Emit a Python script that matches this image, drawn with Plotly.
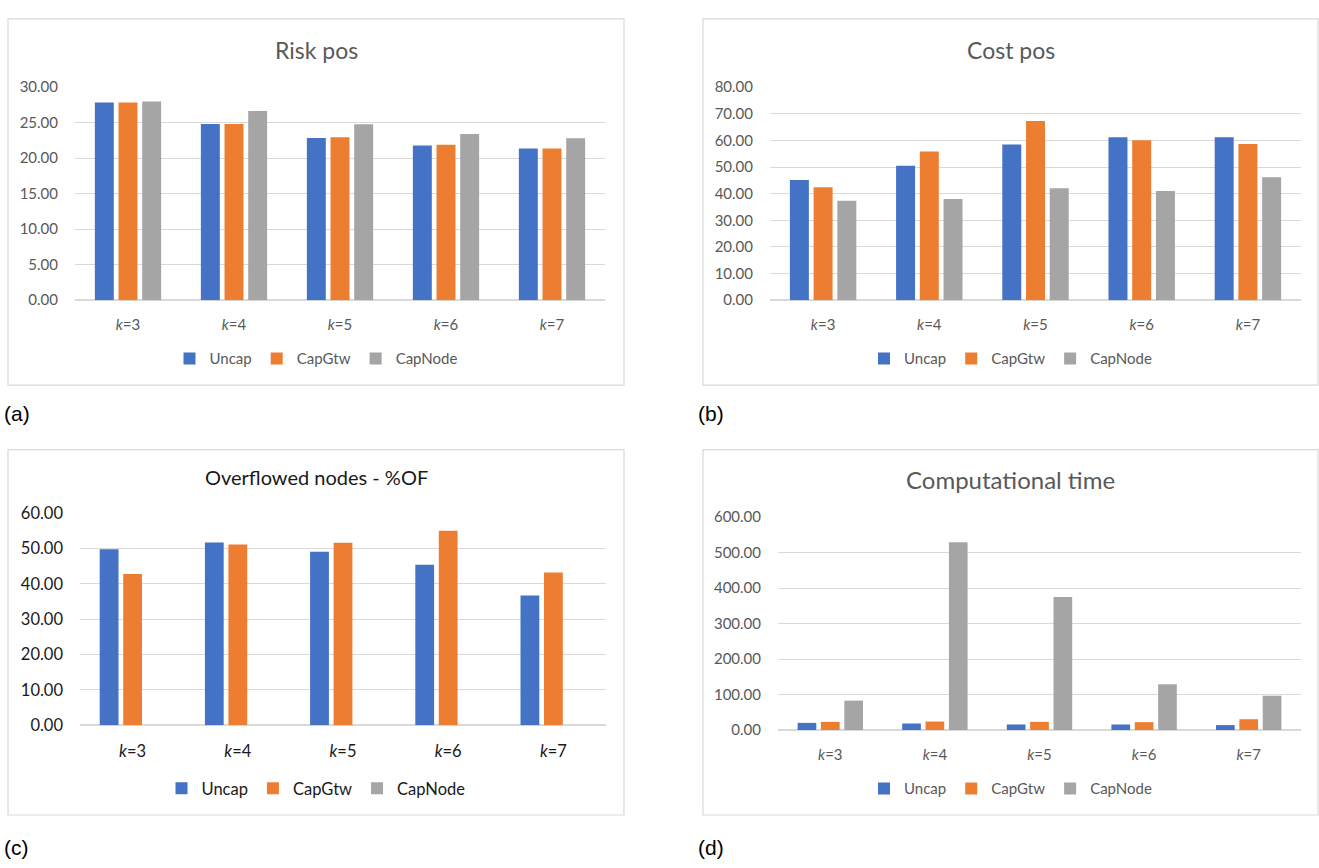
import plotly.graph_objects as go

W, H = 1319, 868

categories = ["k=3", "k=4", "k=5", "k=6", "k=7"]
tick_text = ["<i>k</i>=3", "<i>k</i>=4", "<i>k</i>=5", "<i>k</i>=6", "<i>k</i>=7"]
series_names = ["Uncap", "CapGtw", "CapNode"]
colors = ["#4472C4", "#ED7D31", "#A5A5A5"]

risk_uncap = [27.84, 24.80, 22.84, 21.79, 21.38]
risk_capgtw = [27.84, 24.80, 22.94, 21.88, 21.38]
risk_capnode = [27.98, 26.65, 24.77, 23.39, 22.80]

cost_uncap = [45.1, 50.5, 58.5, 61.2, 61.2]
cost_capgtw = [42.4, 55.8, 67.3, 60.1, 58.7]
cost_capnode = [37.3, 38.0, 42.0, 41.0, 46.2]

of_uncap = [49.8, 51.7, 49.1, 45.4, 36.7]
of_capgtw = [42.8, 51.1, 51.6, 55.0, 43.2]
of_capnode = [0.0, 0.0, 0.0, 0.0, 0.0]

time_uncap = [20.2, 18.4, 15.6, 15.6, 13.8]
time_capgtw = [23.0, 23.9, 23.0, 22.1, 30.4]
time_capnode = [82.8, 529.0, 374.5, 128.8, 96.6]

panels = [
    dict(title="Risk pos", data=[risk_uncap, risk_capgtw, risk_capnode], dtick=5, rmax=30,
         px=(75, 605), py=(297, 79), box=(8, 9, 624, 384), title_y=41, legend_y=357,
         label="(a)", label_pos=(2, 413), dark=False, tsize=23),
    dict(title="Cost pos", data=[cost_uncap, cost_capgtw, cost_capnode], dtick=10, rmax=80,
         px=(770, 1301), py=(297, 79), box=(703, 9, 1318, 384), title_y=41, legend_y=357,
         label="(b)", label_pos=(696, 413), dark=False, tsize=23),
    dict(title="Overflowed nodes - %OF", data=[of_uncap, of_capgtw, of_capnode], dtick=10, rmax=60,
         px=(80, 606), py=(732, 515), box=(8, 450, 624, 824), title_y=478, legend_y=797,
         label="(c)", label_pos=(2, 857), dark=True, tsize=20),
    dict(title="Computational time", data=[time_uncap, time_capgtw, time_capnode], dtick=100, rmax=600,
         px=(778, 1301), py=(737, 519), box=(703, 450, 1318, 824), title_y=481, legend_y=797,
         label="(d)", label_pos=(696, 857), dark=False, tsize=24),
]

FONT = "Lato, 'Open Sans', sans-serif"
fig = go.Figure()
layout = dict(
    width=W, height=H, margin=dict(l=0, r=0, t=0, b=0),
    paper_bgcolor="white", plot_bgcolor="white",
    barmode="group", bargap=0.33, bargroupgap=0.2,
    font=dict(family=FONT),
    shapes=[], annotations=[],
)

for i, p in enumerate(panels):
    n = "" if i == 0 else str(i + 1)
    xa, ya = "x" + n, "y" + n
    leg = "legend" + n
    txt_color = "#1a1a1a" if p["dark"] else "#595959"
    fsize = 16.5 if p["dark"] else 15
    for s in range(3):
        fig.add_trace(go.Bar(
            x=categories, y=p["data"][s], name=series_names[s],
            marker=dict(color=colors[s], line=dict(width=0)),
            xaxis=xa, yaxis=ya, legend=leg, showlegend=True,
        ))
    layout["xaxis" + n] = dict(
        domain=[p["px"][0] / W, p["px"][1] / W], anchor=ya,
        tickmode="array", tickvals=categories, ticktext=tick_text,
        showgrid=False, showline=False, zeroline=False, ticks="",
        ticklabelstandoff=14 if not p["dark"] else 14,
        tickfont=dict(size=fsize, color=txt_color, family=FONT),
        range=[-0.5, 4.5], fixedrange=True,
    )
    layout["yaxis" + n] = dict(
        domain=[1 - p["py"][0] / H, 1 - p["py"][1] / H], anchor=xa,
        range=[0, p["rmax"]], dtick=p["dtick"], tick0=0, tickformat=".2f",
        showgrid=True, gridcolor="#D9D9D9", gridwidth=1,
        zeroline=True, zerolinecolor="#D9D9D9", zerolinewidth=1.5,
        showline=False, ticks="", ticklabelstandoff=16,
        tickfont=dict(size=fsize, color=txt_color, family=FONT),
        fixedrange=True,
    )
    cx = (p["box"][0] + p["box"][2]) / 2 / W
    layout[leg] = dict(
        orientation="h", x=cx, xanchor="center", y=1 - p["legend_y"] / H, yanchor="middle",
        font=dict(size=fsize, color=txt_color, family=FONT),
        bgcolor="rgba(0,0,0,0)", itemwidth=30, traceorder="normal",
    )
    x0, y0, x1, y1 = p["box"]
    layout["shapes"].append(dict(
        type="rect", xref="paper", yref="paper",
        x0=x0 / W, x1=x1 / W, y0=1 - y1 / H, y1=1 - y0 / H,
        line=dict(color="#D9D9D9", width=1.2), fillcolor="rgba(0,0,0,0)", layer="below",
    ))
    layout["annotations"].append(dict(
        text=p["title"], xref="paper", yref="paper",
        x=cx, y=1 - p["title_y"] / H, xanchor="center", yanchor="middle", showarrow=False,
        font=dict(size=p["tsize"], color="#1a1a1a" if p["dark"] else "#595959", family=FONT),
    ))
    layout["annotations"].append(dict(
        text=p["label"], xref="paper", yref="paper",
        x=p["label_pos"][0] / W, y=1 - p["label_pos"][1] / H, xanchor="left", yanchor="middle",
        showarrow=False, font=dict(size=21, color="#000000", family="'Liberation Sans', Arial, sans-serif"),
    ))

fig.update_layout(**layout)
fig.write_html(
    "out.html",
    config={"displayModeBar": False},
    post_script="document.body.style.margin='0';document.body.style.overflow='hidden';",
)
